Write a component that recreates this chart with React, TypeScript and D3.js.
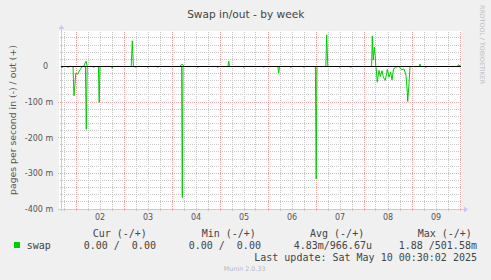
import React from 'react';
import * as d3 from 'd3';

const START = Date.UTC(2025, 4, 1, 16, 30);
const END = Date.UTC(2025, 4, 10, 0, 30);

const dayLabels = ['02', '03', '04', '05', '06', '07', '08', '09'];
const yTicks = [0, -100, -200, -300, -400];

// hours since START, values in milli pages/second
// swap in (drawn downward)
const inHours = [0, 0.5, 1, 3, 3.5, 4, 6, 6.5, 7.4, 8.2, 9.1, 10, 10.6, 12.2, 12.65, 13.1, 16, 16.4, 16.8, 18.7, 19.1, 19.5,
  25.2, 25.6, 26, 37, 37.4, 37.8, 43, 43.4, 43.8, 48, 48.4, 48.8, 60.3, 60.65, 61, 68, 68.4, 68.8, 78, 78.4, 78.8,
  91, 91.4, 91.8, 101, 101.4, 101.8, 108.4, 108.85, 109.3,
  114.5, 114.9, 115.3, 121, 121.4, 121.8, 127.2, 127.6, 128, 139, 139.4, 139.8, 144.5, 144.9, 145.3,
  157.5, 158.15, 159, 159.65, 160.5, 161.15, 162.15, 163.15, 164,
  164.85, 165.5, 166.15, 167, 169, 170.35, 171.5, 172.5, 173.15, 173.35, 174, 174.5, 182, 182.4, 182.8, 200];
const inValues = [0, 4, 0, 0, 3, 0, 0, 82, 19, 22, 13, 5, 0, 0, 176, 0, 0, 3, 0, 0, 101, 0,
  0, 5, 0, 0, 3, 0, 0, 3, 0, 0, 3, 0, 0, 368, 0, 0, 3, 0, 0, 3, 0,
  0, 3, 0, 0, 3, 0, 0, 18, 0,
  0, 3, 0, 0, 3, 0, 0, 316, 0, 0, 3, 0, 0, 3, 0,
  0, 44, 11, 28, 12, 30, 39, 8, 30,
  16, 38, 10, 2, 0, 9, 7, 25, 72, 98, 48, 0, 0, 3, 0, 0];

// swap out (drawn upward)
const outHours = [0, 11.4, 11.8, 12.6, 13.1, 35.1, 35.65, 36.2, 59.5, 60, 61, 61.3, 83.5, 83.85, 84.3,
  132.4, 132.85, 133.4, 155.3, 155.65, 156.1, 156.65, 157.1, 157.4, 179.2, 179.5, 179.9, 198.3, 198.6, 200];
const outValues = [0, 0, 7, 15, 0, 0, 72, 0, 0, 5, 5, 0, 0, 15, 0,
  0, 89, 0, 0, 86, 18, 54, 30, 0, 0, 7, 0, 0, 5, 0];

const legendHeaders = ['Cur (-/+)', 'Min (-/+)', 'Avg (-/+)', 'Max (-/+)'];
const legendValues = ['0.00 /  0.00', '0.00 /  0.00', '4.83m/966.67u', '1.88 /501.58m'];
const headerX = [92.7, 201.7, 310, 417.7];
const valueX = [83.7, 188.7, 293.7, 398.7];

const W = 491, H = 280;
const L = 61, R = 461, T = 31, B = 209;

export default function App() {
  const x = d3.scaleUtc().domain([new Date(START), new Date(END)]).range([L, R]);
  const y = d3.scaleLinear().domain([-400, 99.6]).range([B, T]);
  const toDate = (h: number) => new Date(START + h * 3600e3);

  const line = d3.line<[number, number]>()
    .x(d => x(toDate(d[0])))
    .y(d => y(d[1]));

  const inPts: [number, number][] = inHours.map((h, i) => [h, -inValues[i]]);
  const outPts: [number, number][] = outHours.map((h, i) => [h, outValues[i]]);

  const minorV = d3.utcHour.every(6)!.range(new Date(START), new Date(END)).filter(d => d.getUTCHours() !== 0);
  const majorV = d3.utcDay.range(new Date(START), new Date(END));
  const minorH = d3.range(-380, 99, 20).filter(v => v % 100 !== 0);
  const majorH = [-400, -300, -200, -100];
  const noons = d3.utcDay.range(new Date(START), new Date(END)).map(d => new Date(d.getTime() + 12 * 3600e3));

  const fl = (v: number) => Math.floor(v);
  const fmt = (v: number) => (v === 0 ? '0' : `${v} m`);
  const sans = 'DejaVu Sans, sans-serif';
  const mono = 'DejaVu Sans Mono, monospace';
  const axisCol = '#c8c8f4';
  const minorCol = '#c8c8c8';
  const majorCol = '#f2a6a6';

  return (
    <svg width={W} height={H} style={{ position: 'absolute', left: 0, top: 0 }} xmlns="http://www.w3.org/2000/svg">
      <defs>
        <pattern id="hMinor" x={0} y={0} width={2} height={1} patternUnits="userSpaceOnUse">
          <rect x={0} y={0} width={1} height={1} fill={minorCol} />
        </pattern>
        <pattern id="vMinor" x={0} y={0} width={1} height={2} patternUnits="userSpaceOnUse">
          <rect x={0} y={0} width={1} height={1} fill={minorCol} />
        </pattern>
        <pattern id="hMajor" x={0} y={0} width={2} height={1} patternUnits="userSpaceOnUse">
          <rect x={0} y={0} width={1} height={1} fill={majorCol} />
        </pattern>
        <pattern id="vMajor" x={0} y={0} width={1} height={2} patternUnits="userSpaceOnUse">
          <rect x={0} y={0} width={1} height={1} fill={majorCol} />
        </pattern>
      </defs>
      <rect x={0} y={0} width={W} height={H} fill="#f0f0f0" />
      <rect x={59} y={T} width={R - 59 + 1} height={B - T + 1} fill="#ffffff" />

      {/* grid */}
      <g shapeRendering="crispEdges">
        {minorH.map(v => (
          <rect key={'mh' + v} x={59} y={fl(y(v))} width={R - 59} height={1} fill="url(#hMinor)" />
        ))}
        {minorV.map(d => (
          <rect key={'mv' + d.getTime()} x={fl(x(d))} y={T} width={1} height={B + 2 - T} fill="url(#vMinor)" />
        ))}
        {majorH.map(v => (
          <rect key={'Mh' + v} x={58} y={fl(y(v))} width={R - 58} height={1} fill="url(#hMajor)" />
        ))}
        {majorV.map(d => (
          <rect key={'Mv' + d.getTime()} x={fl(x(d))} y={T} width={1} height={B + 3 - T} fill="url(#vMajor)" />
        ))}
      </g>

      {/* axes */}
      <rect x={L} y={T - 3} width={1} height={B + 2 - (T - 3)} fill={axisCol} shapeRendering="crispEdges" />
      <path d={`M${L - 2.5},${T - 2} L${L + 3.5},${T - 2} L${L + 0.5},${T - 6} Z`} fill={axisCol} />
      <rect x={58} y={B} width={R + 4 - 58} height={1} fill={axisCol} shapeRendering="crispEdges" />
      <path d={`M${R + 3},${B - 2.5} L${R + 3},${B + 3.5} L${R + 7},${B + 0.5} Z`} fill={axisCol} />

      {/* data */}
      <path d={line(inPts) || ''} fill="none" stroke="#00cc00" strokeWidth={1} />
      <path d={line(outPts) || ''} fill="none" stroke="#00cc00" strokeWidth={1} />
      <rect x={L} y={fl(y(0))} width={R - L} height={1} fill="#000000" shapeRendering="crispEdges" />

      {/* y ticks */}
      {yTicks.map(v => (
        <text key={'yt' + v} x={v === 0 ? 48 : 53.3} y={y(v) + 3} textAnchor="end" fontFamily={sans} fontSize={8}
          fill="#555">{fmt(v)}</text>
      ))}
      {/* x ticks */}
      {noons.map((d, i) => (
        <text key={'xt' + i} x={x(d)} y={220} textAnchor="middle" fontFamily={sans} fontSize={8} fill="#555">
          {dayLabels[i]}
        </text>
      ))}

      {/* title & labels */}
      <text x={245.8} y={17.5} textAnchor="middle" fontFamily={sans} fontSize={10.6} fill="#444">Swap in/out - by week</text>
      <text transform="translate(15.5,120) rotate(-90)" textAnchor="middle" fontFamily={sans} fontSize={9.3} fill="#555">
        pages per second in (-) / out (+)
      </text>
      <text transform="translate(479.5,5) rotate(90)" textAnchor="start" fontFamily={sans} fontSize={6.3} fill="#bdbdbd">
        RRDTOOL / TOBIOETIKER
      </text>

      {/* legend */}
      {legendHeaders.map((t, i) => (
        <text key={'lh' + i} x={headerX[i]} y={237} fontFamily={mono} fontSize={10} fill="#444" style={{ whiteSpace: 'pre' }}>{t}</text>
      ))}
      <rect x={14} y={242} width={6} height={6} fill="#00cc00" />
      <text x={26.7} y={248.5} fontFamily={mono} fontSize={10} fill="#444">swap</text>
      {legendValues.map((t, i) => (
        <text key={'lv' + i} x={valueX[i]} y={248.5} fontFamily={mono} fontSize={10} fill="#444" style={{ whiteSpace: 'pre' }}>{t}</text>
      ))}
      <text x={477} y={260.5} textAnchor="end" fontFamily={mono} fontSize={10} fill="#444" style={{ whiteSpace: 'pre' }}>
        Last update: Sat May 10 00:30:02 2025
      </text>
      <text x={244.7} y={271} textAnchor="middle" fontFamily={sans} fontSize={6.4} fill="#b8b8b8">Munin 2.0.33</text>
    </svg>
  );
}
